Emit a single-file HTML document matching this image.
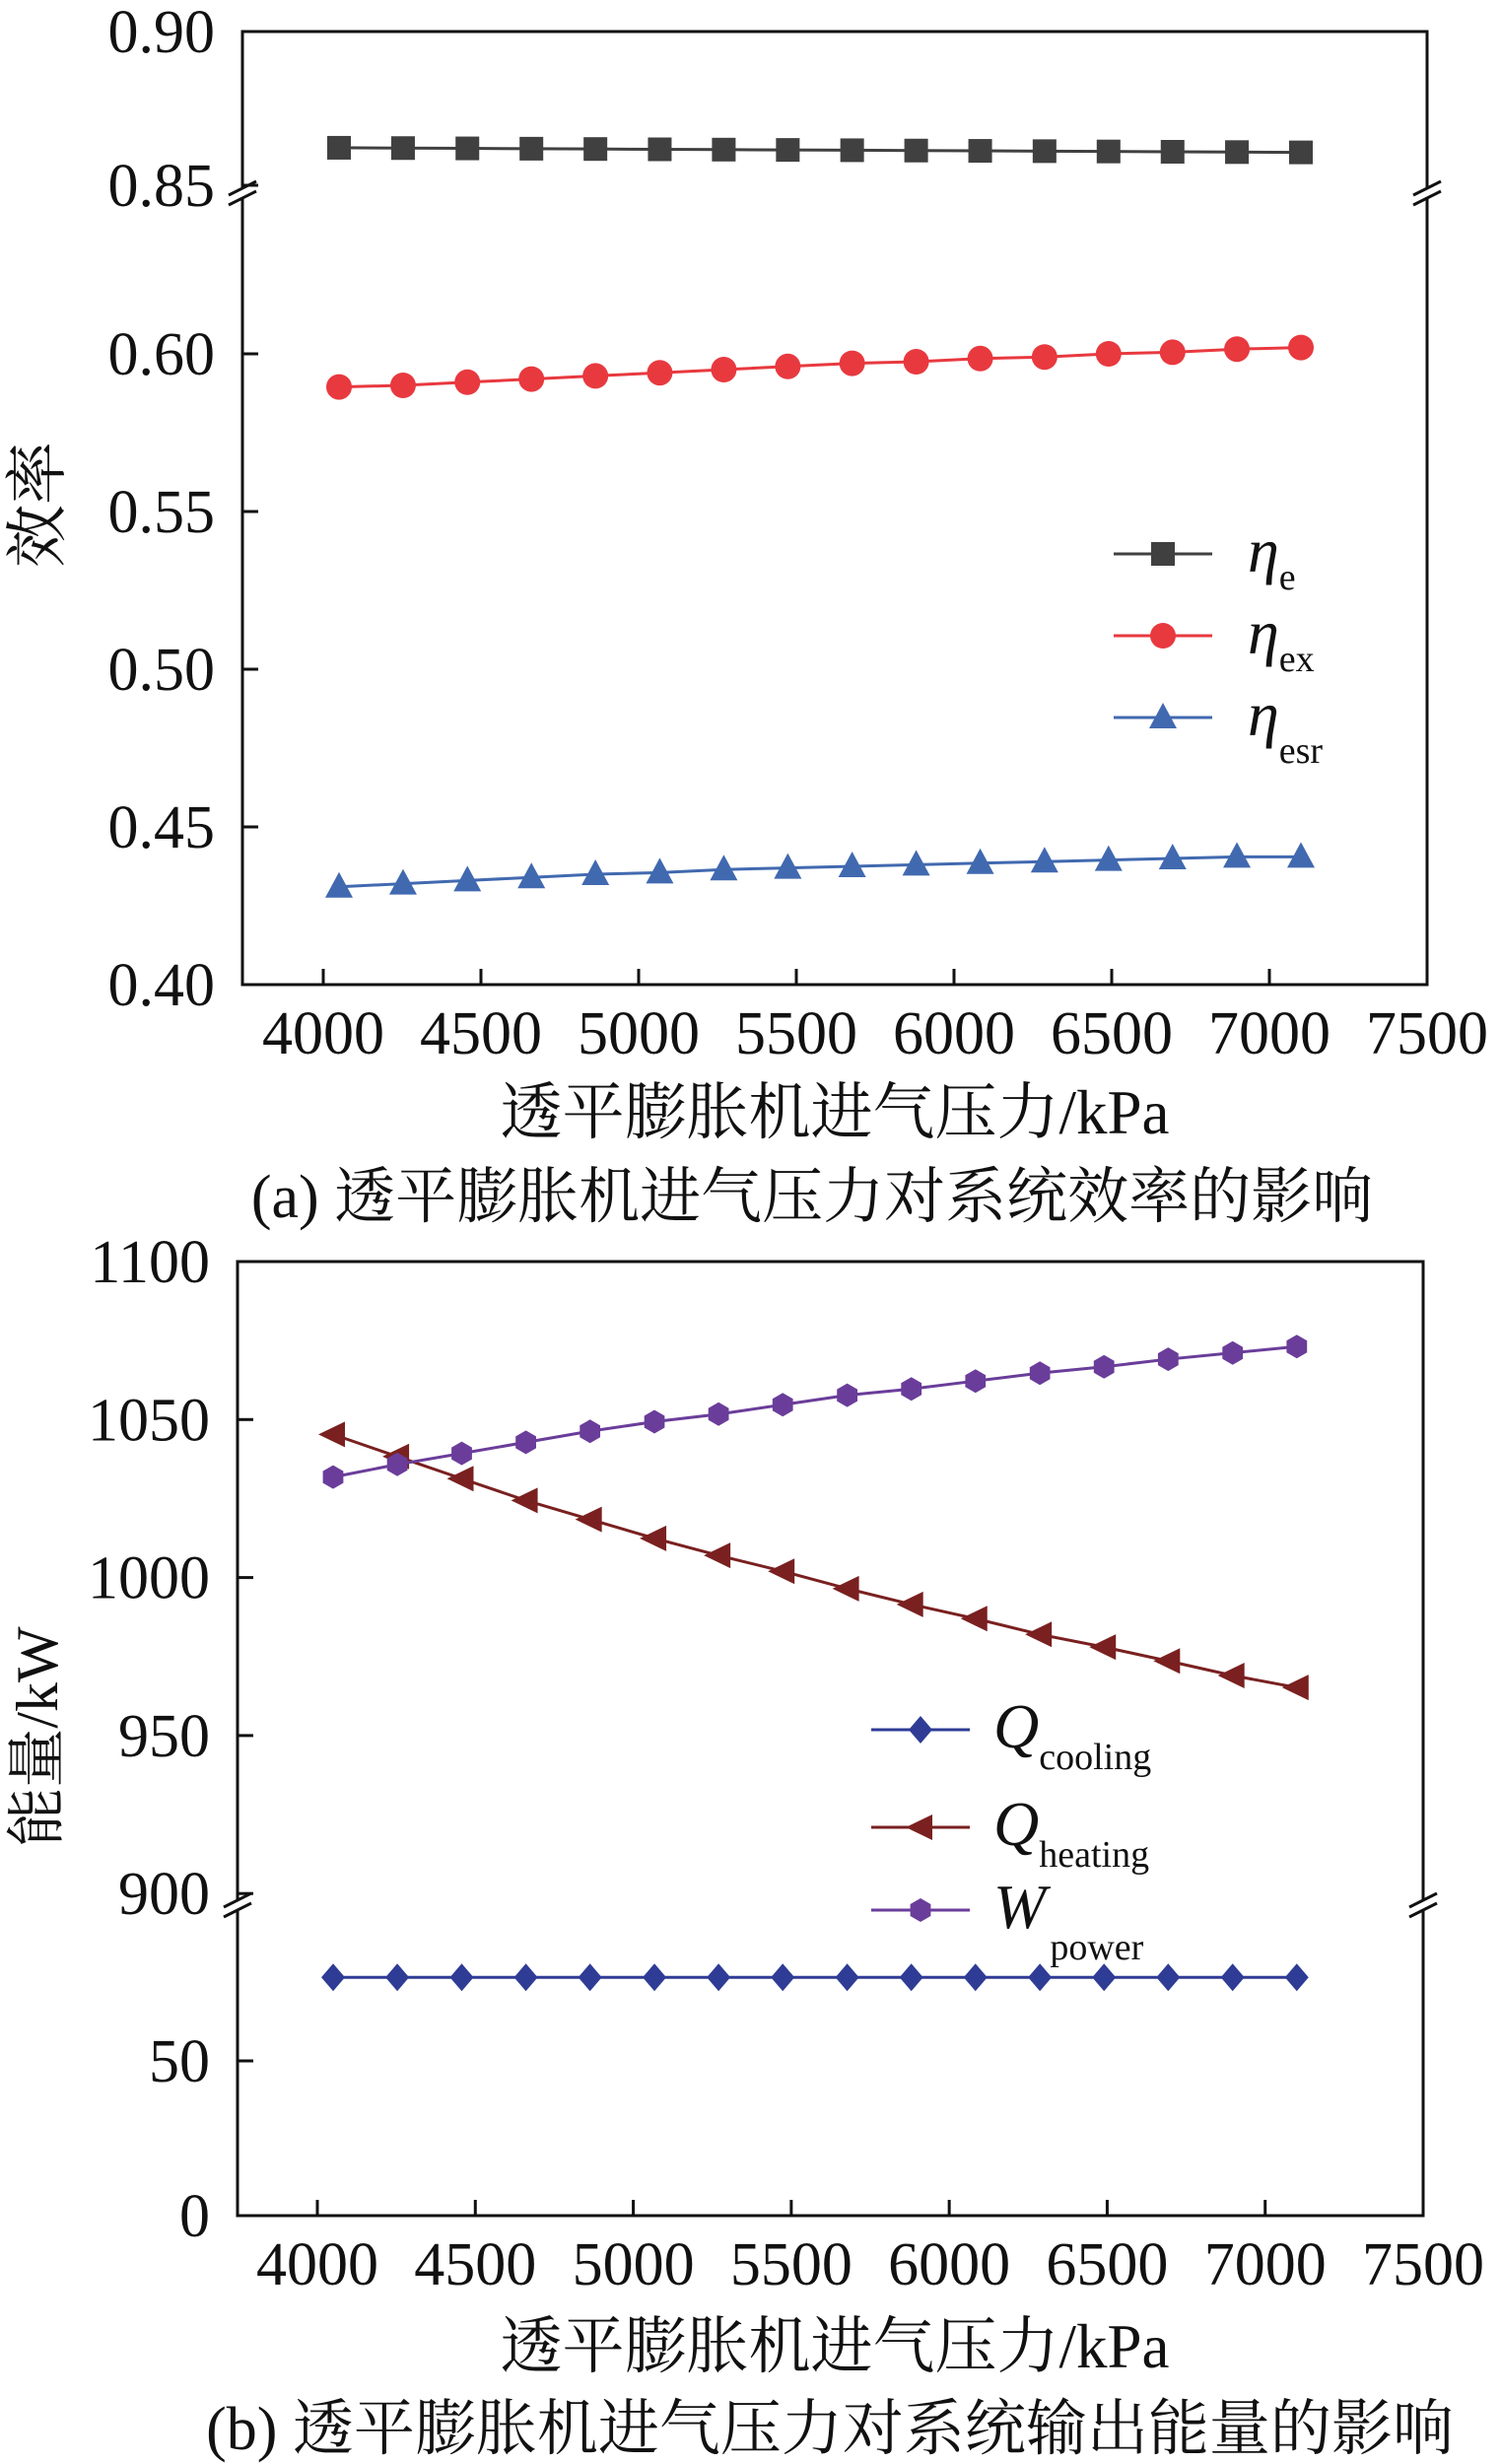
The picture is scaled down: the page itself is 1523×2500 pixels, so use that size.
<!DOCTYPE html>
<html><head><meta charset="utf-8"><style>
html,body{margin:0;padding:0;background:#fff}
svg{display:block}
text{font-family:"Liberation Serif","Noto Serif CJK SC",serif;fill:#111}
</style></head><body>
<svg id="c" width="1523" height="2500" viewBox="0 0 1523 2500" xmlns="http://www.w3.org/2000/svg"></svg>
<script>
const pressures=[4050,4253,4457,4660,4863,5067,5270,5473,5677,5880,6083,6287,6490,6693,6897,7100];
const etaE=[0.8622,0.8621,0.8620,0.8619,0.8618,0.8617,0.8616,0.8615,0.8614,0.8613,0.8612,0.8611,0.8610,0.8609,0.8608,0.8607];
const etaEx=[0.5895,0.5900,0.5910,0.5920,0.5930,0.5940,0.5950,0.5960,0.5970,0.5975,0.5985,0.5990,0.6000,0.6005,0.6015,0.6020];
const etaEsr=[0.431,0.432,0.433,0.434,0.435,0.4355,0.4365,0.437,0.4375,0.438,0.4385,0.439,0.4395,0.440,0.4405,0.4405];
const qCooling=[77,77,77,77,77,77,77,77,77,77,77,77,77,77,77,77];
const qHeating=[1045.3,1038.3,1031.3,1024.4,1018.4,1012.4,1007,1002,996.5,991.5,987,982,978,973.6,969,965.2];
const wPower=[1031.8,1035.8,1039.3,1042.8,1046.3,1049.3,1051.7,1054.7,1057.7,1059.7,1062.2,1064.7,1066.7,1069.1,1071.1,1073.1];
const xTicks=[4000,4500,5000,5500,6000,6500,7000,7500];
const yTicksA=[0.40,0.45,0.50,0.55,0.60,0.85,0.90];
const yTicksB=[0,50,900,950,1000,1050,1100];

const svg=document.getElementById('c');
const NS='http://www.w3.org/2000/svg';
function el(t,a,p){const e=document.createElementNS(NS,t);for(const k in a)e.setAttribute(k,a[k]);(p||svg).appendChild(e);return e;}
function txt(s,x,y,size,anchor,p){const t=el('text',{x:x,y:y,'font-size':size,'text-anchor':anchor||'middle'},p);t.textContent=s;return t;}

function panel(cfg){
  const g=el('g',{});
  
  
  const L=cfg.L,R=cfg.R,T=cfg.T,B=cfg.B;
  const xs=v=>cfg.x0+(v-4000)/3500*(R-cfg.x0);
  const ys=cfg.ys;
  const fr=el('rect',{x:L,y:T,width:R-L,height:B-T,fill:'none',stroke:'#111','stroke-width':3},g);
  
  
  const by=cfg.breakY;
  [L,R].forEach(function(ax){
    el('rect',{x:ax-14,y:by-6,width:28,height:12,fill:'#fff'},g);
    const b1=el('line',{x1:ax-14,y1:by+2,x2:ax+14,y2:by-12,stroke:'#111','stroke-width':3},g);
    
    
    el('line',{x1:ax-14,y1:by+12,x2:ax+14,y2:by-2,stroke:'#111','stroke-width':3},g);
  });
  xTicks.forEach(function(v){
    const X=xs(v);
    if(v<7500) el('line',{x1:X,y1:B,x2:X,y2:B-16,stroke:'#111','stroke-width':3},g);
    const t=txt(String(v),X,B+cfg.xlabOff,62,'middle',g);
    
    
  });
  cfg.yticks.forEach(function(v){
    const Y=ys(v);
    el('line',{x1:L,y1:Y,x2:L+16,y2:Y,stroke:'#111','stroke-width':3},g);
    const t=txt(cfg.fmt(v),L-28,Y+21,62,'end',g);
    
    
  });
  const xt=txt(cfg.xtitle,cfg.xtitleX,cfg.xtitleY,63,'middle',g);
  
  
  const yt=txt(cfg.ytitle,0,0,cfg.ytSize,'middle',g);
  yt.setAttribute('transform','translate('+cfg.ytX+','+cfg.ytY+') rotate(-90)');
  
  
  const cap=txt(cfg.caption,cfg.capX,cfg.capY,62,'middle',g);
  
  
  cfg.series.forEach(function(s){
    const sg=el('g',{},g);
    
    
    const pts=s.data.map((v,i)=>[xs(pressures[i]),ys(v)]);
    el('polyline',{points:pts.map(p=>p.join(',')).join(' '),fill:'none',stroke:s.color,'stroke-width':3},sg);
    pts.forEach(function(p){
      const m=marker(s.shape,p[0],p[1],s.color,sg);
      
      
    });
    const lg=el('g',{},g);
    
    
    el('line',{x1:s.lx,y1:s.ly,x2:s.lx+100,y2:s.ly,stroke:s.color,'stroke-width':3},lg);
    marker(s.shape,s.lx+50,s.ly,s.color,lg);
    const lt=el('text',{x:s.lx+s.tx,y:s.ly+18,'font-size':64,'font-style':'italic','text-anchor':'start'},lg);
    lt.textContent=s.sym;
    const sub=el('tspan',{'font-size':38,'font-style':'normal',dy:s.subDy,dx:s.subDx||0},lt);
    sub.textContent=s.sub;
  });
}
function marker(shape,x,y,c,p){
  const r=12;
  if(shape==='square') return el('rect',{x:x-r,y:y-r,width:2*r,height:2*r,fill:c},p);
  if(shape==='circle') return el('circle',{cx:x,cy:y,r:r+1,fill:c},p);
  if(shape==='tri') return el('polygon',{points:`${x},${y-r-3} ${x+r+2},${y+r-1} ${x-r-2},${y+r-1}`,fill:c},p);
  if(shape==='diamond') return el('polygon',{points:`${x},${y-r-2} ${x+r},${y} ${x},${y+r+2} ${x-r},${y}`,fill:c},p);
  if(shape==='ltri') return el('polygon',{points:`${x-r-3},${y} ${x+r},${y-r-1} ${x+r},${y+r+1}`,fill:c},p);
  let pts=[];for(let k=0;k<6;k++){const a=Math.PI/6+k*Math.PI/3;pts.push((x+r*Math.cos(a)).toFixed(1)+','+(y+r*Math.sin(a)).toFixed(1));}
  return el('polygon',{points:pts.join(' '),fill:c},p);
}

panel({name:'panel-a-efficiency',L:246,R:1448,T:32,B:999,x0:328,breakY:196,xlabOff:70,
  ys:v=>v>=0.8?188-(v-0.85)*3120:999-(v-0.40)*3200,
  yticks:yTicksA,fmt:v=>v.toFixed(2),
  xtitle:'透平膨胀机进气压力/kPa',xtitleX:847,xtitleY:1150,ytitle:'效率',ytSize:64,ytX:60,ytY:512,
  caption:'(a) 透平膨胀机进气压力对系统效率的影响',capX:824,capY:1235,
  series:[
    {id:'eta-e',data:etaE,color:'#404040',shape:'square',sym:'η',sub:'e',lx:1130,ly:562,tx:136,subDy:18},
    {id:'eta-ex',data:etaEx,color:'#e8393f',shape:'circle',sym:'η',sub:'ex',lx:1130,ly:645,tx:136,subDy:18},
    {id:'eta-esr',data:etaEsr,color:'#4169b0',shape:'tri',sym:'η',sub:'esr',lx:1130,ly:728,tx:136,subDy:28}
  ]});
panel({name:'panel-b-energy',L:241,R:1444,T:1280,B:2248,x0:322,breakY:1933,xlabOff:70,
  ys:v=>v>=500?1280+(1100-v)*3.206:2248-v*3.14,
  yticks:yTicksB,fmt:v=>String(v),
  xtitle:'透平膨胀机进气压力/kPa',xtitleX:847,xtitleY:2402,ytitle:'能量/kW',ytSize:60,ytX:58,ytY:1762,
  caption:'(b) 透平膨胀机进气压力对系统输出能量的影响',capX:842,capY:2485,
  series:[
    {id:'q-cooling',data:qCooling,color:'#2e3c96',shape:'diamond',sym:'Q',sub:'cooling',lx:884,ly:1755,tx:124,subDy:22},
    {id:'q-heating',data:qHeating,color:'#7a2020',shape:'ltri',sym:'Q',sub:'heating',lx:884,ly:1854,tx:124,subDy:22},
    {id:'w-power',data:wPower,color:'#6a3d9a',shape:'hex',sym:'W',sub:'power',lx:884,ly:1938,tx:124,subDy:32,subDx:4}
  ]});
</script>
</body></html>
